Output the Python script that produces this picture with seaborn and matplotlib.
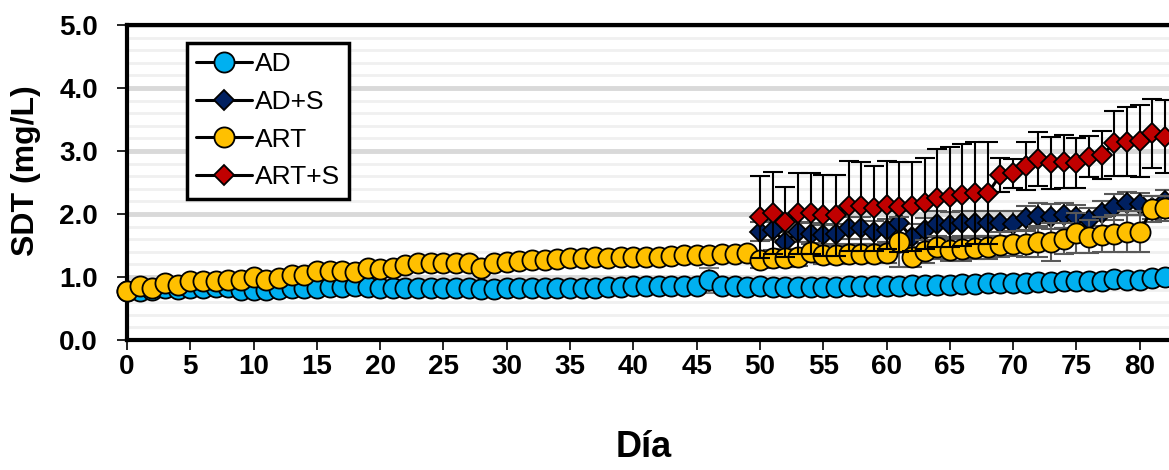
import numpy as np
import pandas as pd
import seaborn as sns
import matplotlib.pyplot as plt
from matplotlib.ticker import MultipleLocator

# dia de muestreo
days = list(range(0, 83))
days_s = list(range(50, 83))

# SDT (mg/L), medias
ad = [0.77, 0.78, 0.80, 0.82, 0.81, 0.83, 0.83, 0.84, 0.84, 0.79,
      0.80, 0.80, 0.81, 0.83, 0.83, 0.83, 0.84, 0.84, 0.85, 0.84,
      0.83, 0.83, 0.83, 0.82, 0.83, 0.83, 0.82, 0.82, 0.81, 0.81,
      0.82, 0.82, 0.83, 0.82, 0.82, 0.83, 0.83, 0.83, 0.84, 0.84,
      0.85, 0.85, 0.85, 0.85, 0.86, 0.86, 0.95, 0.85, 0.85, 0.84,
      0.85, 0.84, 0.84, 0.84, 0.84, 0.84, 0.84, 0.85, 0.85, 0.85,
      0.86, 0.86, 0.87, 0.87, 0.88, 0.88, 0.89, 0.89, 0.90, 0.90,
      0.91, 0.91, 0.92, 0.92, 0.93, 0.93, 0.94, 0.94, 0.97, 0.96,
      0.96, 0.98, 1.00]
art = [0.77, 0.85, 0.82, 0.90, 0.87, 0.93, 0.93, 0.94, 0.96, 0.95,
       1.00, 0.95, 0.98, 1.03, 1.03, 1.10, 1.10, 1.10, 1.08, 1.15,
       1.12, 1.14, 1.19, 1.22, 1.23, 1.22, 1.22, 1.23, 1.15, 1.22,
       1.24, 1.26, 1.27, 1.27, 1.28, 1.30, 1.30, 1.32, 1.30, 1.31,
       1.32, 1.32, 1.31, 1.33, 1.35, 1.35, 1.35, 1.36, 1.37, 1.38,
       1.27, 1.30, 1.30, 1.31, 1.40, 1.35, 1.35, 1.37, 1.37, 1.37,
       1.38, 1.56, 1.32, 1.41, 1.47, 1.43, 1.44, 1.46, 1.47, 1.51,
       1.53, 1.53, 1.56, 1.56, 1.61, 1.70, 1.64, 1.67, 1.69, 1.72,
       1.72, 2.08, 2.09]
ad_s = [1.72, 1.74, 1.56, 1.71, 1.69, 1.67, 1.68, 1.78, 1.78, 1.71,
        1.74, 1.85, 1.64, 1.74, 1.84, 1.83, 1.85, 1.85, 1.85, 1.85,
        1.84, 1.93, 1.97, 1.96, 1.98, 1.95, 1.90, 2.01, 2.11, 2.17,
        2.16, 2.10, 2.20]
art_s = [1.95, 2.01, 1.87, 2.01, 2.01, 1.98, 1.98, 2.13, 2.12, 2.09,
         2.14, 2.11, 2.12, 2.17, 2.25, 2.27, 2.30, 2.33, 2.33, 2.62,
         2.65, 2.76, 2.87, 2.81, 2.83, 2.81, 2.91, 2.94, 3.12, 3.15,
         3.16, 3.28, 3.23]

# desviacion estandar
ad_sd = [0.03] * 46 + [0.20] + [0.03] * 36
art_sd = ([0.03] * 50 +
          [0.13, 0.13, 0.14, 0.14, 0.14, 0.15, 0.15, 0.15, 0.15, 0.15,
           0.15, 0.40, 0.16, 0.18, 0.18, 0.18, 0.18, 0.18, 0.18, 0.20,
           0.20, 0.22, 0.25, 0.30, 0.25, 0.32, 0.26, 0.28, 0.30, 0.32,
           0.32, 0.20, 0.20])
ad_s_sd = [0.15, 0.15, 0.15, 0.16, 0.16, 0.16, 0.16, 0.18, 0.18, 0.18,
           0.18, 0.20, 0.20, 0.20, 0.20, 0.20, 0.20, 0.20, 0.20, 0.20,
           0.20, 0.20, 0.20, 0.20, 0.20, 0.20, 0.20, 0.20, 0.20, 0.18,
           0.18, 0.18, 0.18]
art_s_sd = [0.65, 0.65, 0.56, 0.64, 0.64, 0.64, 0.64, 0.71, 0.71, 0.67,
            0.70, 0.72, 0.70, 0.72, 0.78, 0.79, 0.81, 0.81, 0.81, 0.27,
            0.23, 0.38, 0.43, 0.41, 0.42, 0.39, 0.33, 0.38, 0.51, 0.55,
            0.57, 0.55, 0.58]

x_ticks = list(range(0, 85, 5))

sns.set_theme(style='white')
plt.rcParams['font.family'] = ['Liberation Sans', 'DejaVu Sans']
plt.rcParams['text.color'] = 'black'
plt.rcParams['axes.labelcolor'] = 'black'
plt.rcParams['xtick.color'] = 'black'
plt.rcParams['ytick.color'] = 'black'

fig = plt.figure(figsize=(11.69, 4.70), dpi=100)
ax = fig.add_axes([127 / 1169, 130 / 470, 1076 / 1169, 315 / 470])

series = [
    ('AD', days, ad, ad_sd, '#00b0f0', 'o', 14.5, '#7f7f7f'),
    ('AD+S', days_s, ad_s, ad_s_sd, '#002060', 'D', 10, '#595959'),
    ('ART', days, art, art_sd, '#ffc000', 'o', 14.5, '#595959'),
    ('ART+S', days_s, art_s, art_s_sd, '#c00000', 'D', 10, 'black'),
]

for i, (name, x, y, sd, col, mk, ms, ecol) in enumerate(series):
    ax.errorbar(x, y, yerr=sd, fmt='none', ecolor=ecol, elinewidth=1.5,
                capsize=7, capthick=1.5, zorder=3 + 2 * i)
    sns.lineplot(x=x, y=y, ax=ax, color='black', lw=2.2, marker=mk,
                 markersize=ms, markerfacecolor=col, markeredgecolor='black',
                 markeredgewidth=1.3, label=name, errorbar=None,
                 zorder=4 + 2 * i, clip_on=False)

ax.set_xlim(0, 85)
ax.set_ylim(0, 5)
ax.set_xticks(x_ticks)
ax.yaxis.set_major_locator(MultipleLocator(1))
ax.yaxis.set_minor_locator(MultipleLocator(0.2))
ax.yaxis.set_major_formatter(plt.FormatStrFormatter('%.1f'))

ax.set_axisbelow(True)
ax.grid(which='minor', axis='y', color='#f0f0f0', lw=2)
ax.grid(which='major', axis='y', color='#d9d9d9', lw=3.5)
ax.grid(which='major', axis='x', visible=False)

for side in ['left', 'bottom', 'top']:
    ax.spines[side].set_color('black')
    ax.spines[side].set_linewidth(3)
ax.spines['right'].set_visible(False)

ax.tick_params(axis='both', which='major', direction='out', length=7,
               width=1.2, color='black', labelsize=20, bottom=True, left=True)
ax.tick_params(axis='y', which='minor', length=0)
ax.tick_params(axis='y', pad=14)
ax.tick_params(axis='x', pad=3)
for lab in ax.get_xticklabels() + ax.get_yticklabels():
    lab.set_fontweight('bold')

ax.set_xlabel('Día', fontsize=26, fontweight='bold')
ax.xaxis.set_label_coords((644 - 127) / 1076, -(430 - 340) / 315)
ax.set_ylabel('SDT (mg/L)', fontsize=23, fontweight='bold')
ax.yaxis.set_label_coords((41 - 127) / 1076, (340 - 171) / 315)

leg = ax.legend(loc='upper left', bbox_to_anchor=((187 - 127) / 1076, (340 - 43) / 315),
                borderaxespad=0, fontsize=19, frameon=True, fancybox=False,
                framealpha=1, edgecolor='black', handlelength=2.1,
                handletextpad=0.12, labelspacing=0.52, borderpad=0.35)
leg.get_frame().set_linewidth(2.5)

fig.savefig('out.png', dpi=100)
